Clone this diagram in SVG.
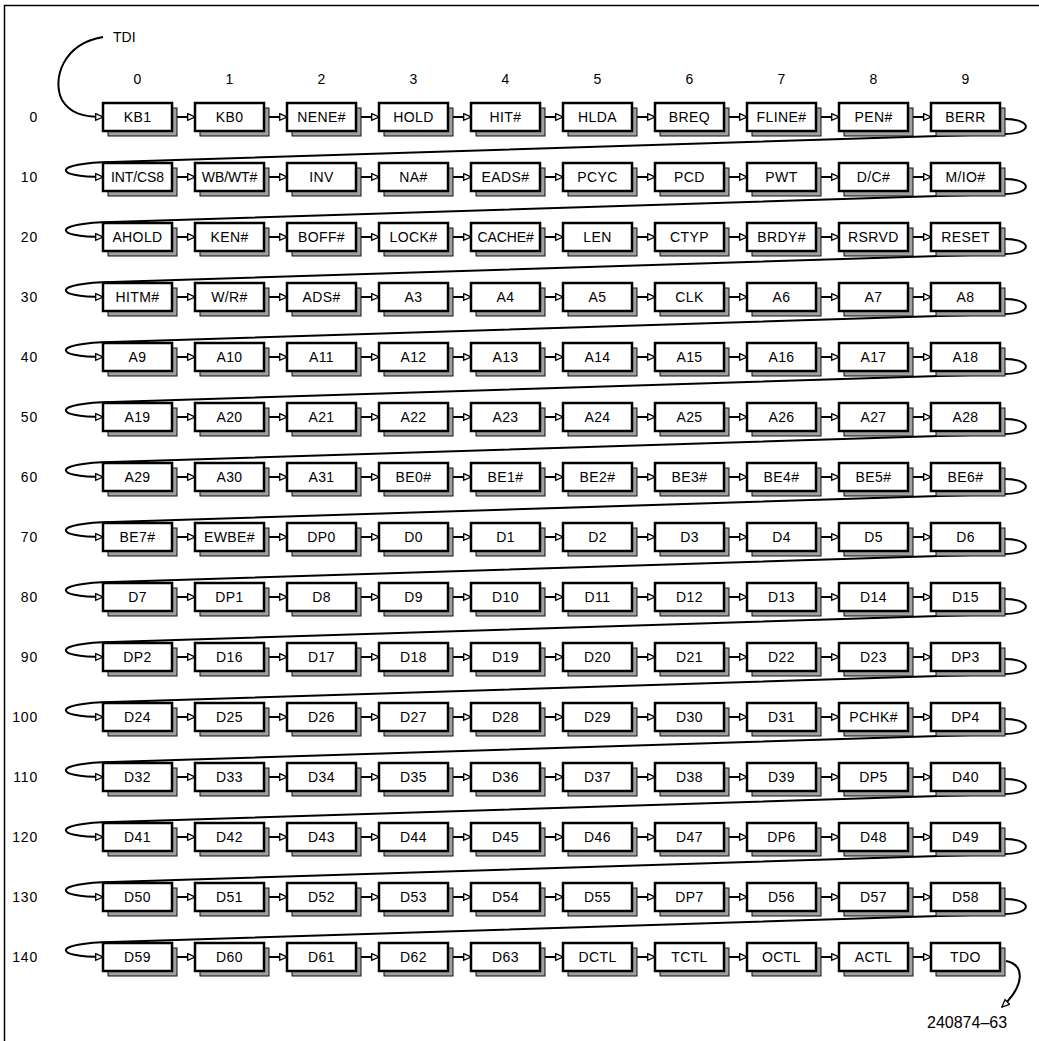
<svg xmlns="http://www.w3.org/2000/svg" width="1039" height="1041" viewBox="0 0 1039 1041">
<style>
.sh{fill:#a0a0a0;stroke:#111;stroke-width:1}
.bx{fill:#fff;stroke:#000;stroke-width:2.5}
.node text{font-family:"Liberation Sans",Arial,sans-serif;font-size:14px;letter-spacing:0.4px;text-anchor:middle;fill:#000}
.node text.w{letter-spacing:-0.1px}
.lbl{font-family:"Liberation Sans",Arial,sans-serif;font-size:14px;fill:#000}
.cl{text-anchor:middle}
.rl{text-anchor:end;letter-spacing:0.8px}
.cn path{fill:none;stroke:#000;stroke-width:2;marker-end:url(#ah)}
</style>
<defs>
<marker id="ah" markerWidth="10" markerHeight="10" refX="8" refY="4" orient="auto" markerUnits="userSpaceOnUse"><path d="M0.7,0.7 L8,4 L0.7,7.3 Z" fill="#fff" stroke="#000" stroke-width="1.3"/></marker>
</defs>
<rect width="1039" height="1041" fill="#fff"/>
<path d="M4.5,1041 V5.5 H1039" fill="none" stroke="#000" stroke-width="1.5"/>
<g id="labels">
<text class="lbl" x="113" y="42">TDI</text>
<text class="lbl cl" x="137.5" y="84">0</text><text class="lbl cl" x="229.5" y="84">1</text><text class="lbl cl" x="321.5" y="84">2</text><text class="lbl cl" x="413.5" y="84">3</text><text class="lbl cl" x="505.5" y="84">4</text><text class="lbl cl" x="597.5" y="84">5</text><text class="lbl cl" x="689.5" y="84">6</text><text class="lbl cl" x="781.5" y="84">7</text><text class="lbl cl" x="873.5" y="84">8</text><text class="lbl cl" x="965.5" y="84">9</text>
<text class="lbl rl" x="38" y="122">0</text><text class="lbl rl" x="38" y="182">10</text><text class="lbl rl" x="38" y="242">20</text><text class="lbl rl" x="38" y="302">30</text><text class="lbl rl" x="38" y="362">40</text><text class="lbl rl" x="38" y="422">50</text><text class="lbl rl" x="38" y="482">60</text><text class="lbl rl" x="38" y="542">70</text><text class="lbl rl" x="38" y="602">80</text><text class="lbl rl" x="38" y="662">90</text><text class="lbl rl" x="38" y="722">100</text><text class="lbl rl" x="38" y="782">110</text><text class="lbl rl" x="38" y="842">120</text><text class="lbl rl" x="38" y="902">130</text><text class="lbl rl" x="38" y="962">140</text>
<text class="lbl" x="927" y="1028" style="font-size:16px">240874–63</text>
</g>
<g id="connectors" class="cn">
<path d="M103,37 C62,44 52,80 62,100 C70,113 82,117 103,117"/>
<path d="M1006,961 C1025,965 1025,985 1002,1007"/>
<path d="M1005,119 C1032,119 1034,134 1004,134 L112,162 C52,163 52,177 103,177"/>
<path d="M1005,179 C1032,179 1034,194 1004,194 L112,222 C52,223 52,237 103,237"/>
<path d="M1005,239 C1032,239 1034,254 1004,254 L112,282 C52,283 52,297 103,297"/>
<path d="M1005,299 C1032,299 1034,314 1004,314 L112,342 C52,343 52,357 103,357"/>
<path d="M1005,359 C1032,359 1034,374 1004,374 L112,402 C52,403 52,417 103,417"/>
<path d="M1005,419 C1032,419 1034,434 1004,434 L112,462 C52,463 52,477 103,477"/>
<path d="M1005,479 C1032,479 1034,494 1004,494 L112,522 C52,523 52,537 103,537"/>
<path d="M1005,539 C1032,539 1034,554 1004,554 L112,582 C52,583 52,597 103,597"/>
<path d="M1005,599 C1032,599 1034,614 1004,614 L112,642 C52,643 52,657 103,657"/>
<path d="M1005,659 C1032,659 1034,674 1004,674 L112,702 C52,703 52,717 103,717"/>
<path d="M1005,719 C1032,719 1034,734 1004,734 L112,762 C52,763 52,777 103,777"/>
<path d="M1005,779 C1032,779 1034,794 1004,794 L112,822 C52,823 52,837 103,837"/>
<path d="M1005,839 C1032,839 1034,854 1004,854 L112,882 C52,883 52,897 103,897"/>
<path d="M1005,899 C1032,899 1034,914 1004,914 L112,942 C52,943 52,957 103,957"/>
<g id="row-links">
<path d="M172,117H195"/><path d="M264,117H287"/><path d="M356,117H379"/><path d="M448,117H471"/><path d="M540,117H563"/><path d="M632,117H655"/><path d="M724,117H747"/><path d="M816,117H839"/><path d="M908,117H931"/>
<path d="M172,177H195"/><path d="M264,177H287"/><path d="M356,177H379"/><path d="M448,177H471"/><path d="M540,177H563"/><path d="M632,177H655"/><path d="M724,177H747"/><path d="M816,177H839"/><path d="M908,177H931"/>
<path d="M172,237H195"/><path d="M264,237H287"/><path d="M356,237H379"/><path d="M448,237H471"/><path d="M540,237H563"/><path d="M632,237H655"/><path d="M724,237H747"/><path d="M816,237H839"/><path d="M908,237H931"/>
<path d="M172,297H195"/><path d="M264,297H287"/><path d="M356,297H379"/><path d="M448,297H471"/><path d="M540,297H563"/><path d="M632,297H655"/><path d="M724,297H747"/><path d="M816,297H839"/><path d="M908,297H931"/>
<path d="M172,357H195"/><path d="M264,357H287"/><path d="M356,357H379"/><path d="M448,357H471"/><path d="M540,357H563"/><path d="M632,357H655"/><path d="M724,357H747"/><path d="M816,357H839"/><path d="M908,357H931"/>
<path d="M172,417H195"/><path d="M264,417H287"/><path d="M356,417H379"/><path d="M448,417H471"/><path d="M540,417H563"/><path d="M632,417H655"/><path d="M724,417H747"/><path d="M816,417H839"/><path d="M908,417H931"/>
<path d="M172,477H195"/><path d="M264,477H287"/><path d="M356,477H379"/><path d="M448,477H471"/><path d="M540,477H563"/><path d="M632,477H655"/><path d="M724,477H747"/><path d="M816,477H839"/><path d="M908,477H931"/>
<path d="M172,537H195"/><path d="M264,537H287"/><path d="M356,537H379"/><path d="M448,537H471"/><path d="M540,537H563"/><path d="M632,537H655"/><path d="M724,537H747"/><path d="M816,537H839"/><path d="M908,537H931"/>
<path d="M172,597H195"/><path d="M264,597H287"/><path d="M356,597H379"/><path d="M448,597H471"/><path d="M540,597H563"/><path d="M632,597H655"/><path d="M724,597H747"/><path d="M816,597H839"/><path d="M908,597H931"/>
<path d="M172,657H195"/><path d="M264,657H287"/><path d="M356,657H379"/><path d="M448,657H471"/><path d="M540,657H563"/><path d="M632,657H655"/><path d="M724,657H747"/><path d="M816,657H839"/><path d="M908,657H931"/>
<path d="M172,717H195"/><path d="M264,717H287"/><path d="M356,717H379"/><path d="M448,717H471"/><path d="M540,717H563"/><path d="M632,717H655"/><path d="M724,717H747"/><path d="M816,717H839"/><path d="M908,717H931"/>
<path d="M172,777H195"/><path d="M264,777H287"/><path d="M356,777H379"/><path d="M448,777H471"/><path d="M540,777H563"/><path d="M632,777H655"/><path d="M724,777H747"/><path d="M816,777H839"/><path d="M908,777H931"/>
<path d="M172,837H195"/><path d="M264,837H287"/><path d="M356,837H379"/><path d="M448,837H471"/><path d="M540,837H563"/><path d="M632,837H655"/><path d="M724,837H747"/><path d="M816,837H839"/><path d="M908,837H931"/>
<path d="M172,897H195"/><path d="M264,897H287"/><path d="M356,897H379"/><path d="M448,897H471"/><path d="M540,897H563"/><path d="M632,897H655"/><path d="M724,897H747"/><path d="M816,897H839"/><path d="M908,897H931"/>
<path d="M172,957H195"/><path d="M264,957H287"/><path d="M356,957H379"/><path d="M448,957H471"/><path d="M540,957H563"/><path d="M632,957H655"/><path d="M724,957H747"/><path d="M816,957H839"/><path d="M908,957H931"/>
</g>
</g>
<defs>
<g id="nb"><rect class="sh" x="5" y="5" width="69" height="28"/><rect class="bx" width="69" height="28"/></g>
</defs>
<g id="nodes">
<g id="n000" class="node" transform="translate(103,103)"><use href="#nb"/><text x="34.5" y="19">KB1</text></g>
<g id="n001" class="node" transform="translate(195,103)"><use href="#nb"/><text x="34.5" y="19">KB0</text></g>
<g id="n002" class="node" transform="translate(287,103)"><use href="#nb"/><text x="34.5" y="19">NENE#</text></g>
<g id="n003" class="node" transform="translate(379,103)"><use href="#nb"/><text x="34.5" y="19">HOLD</text></g>
<g id="n004" class="node" transform="translate(471,103)"><use href="#nb"/><text x="34.5" y="19">HIT#</text></g>
<g id="n005" class="node" transform="translate(563,103)"><use href="#nb"/><text x="34.5" y="19">HLDA</text></g>
<g id="n006" class="node" transform="translate(655,103)"><use href="#nb"/><text x="34.5" y="19">BREQ</text></g>
<g id="n007" class="node" transform="translate(747,103)"><use href="#nb"/><text x="34.5" y="19">FLINE#</text></g>
<g id="n008" class="node" transform="translate(839,103)"><use href="#nb"/><text x="34.5" y="19">PEN#</text></g>
<g id="n009" class="node" transform="translate(931,103)"><use href="#nb"/><text x="34.5" y="19">BERR</text></g>
<g id="n010" class="node" transform="translate(103,163)"><use href="#nb"/><text class="w" x="34.5" y="19">INT/CS8</text></g>
<g id="n011" class="node" transform="translate(195,163)"><use href="#nb"/><text class="w" x="34.5" y="19">WB/WT#</text></g>
<g id="n012" class="node" transform="translate(287,163)"><use href="#nb"/><text x="34.5" y="19">INV</text></g>
<g id="n013" class="node" transform="translate(379,163)"><use href="#nb"/><text x="34.5" y="19">NA#</text></g>
<g id="n014" class="node" transform="translate(471,163)"><use href="#nb"/><text x="34.5" y="19">EADS#</text></g>
<g id="n015" class="node" transform="translate(563,163)"><use href="#nb"/><text x="34.5" y="19">PCYC</text></g>
<g id="n016" class="node" transform="translate(655,163)"><use href="#nb"/><text x="34.5" y="19">PCD</text></g>
<g id="n017" class="node" transform="translate(747,163)"><use href="#nb"/><text x="34.5" y="19">PWT</text></g>
<g id="n018" class="node" transform="translate(839,163)"><use href="#nb"/><text x="34.5" y="19">D/C#</text></g>
<g id="n019" class="node" transform="translate(931,163)"><use href="#nb"/><text x="34.5" y="19">M/IO#</text></g>
<g id="n020" class="node" transform="translate(103,223)"><use href="#nb"/><text x="34.5" y="19">AHOLD</text></g>
<g id="n021" class="node" transform="translate(195,223)"><use href="#nb"/><text x="34.5" y="19">KEN#</text></g>
<g id="n022" class="node" transform="translate(287,223)"><use href="#nb"/><text x="34.5" y="19">BOFF#</text></g>
<g id="n023" class="node" transform="translate(379,223)"><use href="#nb"/><text x="34.5" y="19">LOCK#</text></g>
<g id="n024" class="node" transform="translate(471,223)"><use href="#nb"/><text class="w" x="34.5" y="19">CACHE#</text></g>
<g id="n025" class="node" transform="translate(563,223)"><use href="#nb"/><text x="34.5" y="19">LEN</text></g>
<g id="n026" class="node" transform="translate(655,223)"><use href="#nb"/><text x="34.5" y="19">CTYP</text></g>
<g id="n027" class="node" transform="translate(747,223)"><use href="#nb"/><text x="34.5" y="19">BRDY#</text></g>
<g id="n028" class="node" transform="translate(839,223)"><use href="#nb"/><text x="34.5" y="19">RSRVD</text></g>
<g id="n029" class="node" transform="translate(931,223)"><use href="#nb"/><text x="34.5" y="19">RESET</text></g>
<g id="n030" class="node" transform="translate(103,283)"><use href="#nb"/><text x="34.5" y="19">HITM#</text></g>
<g id="n031" class="node" transform="translate(195,283)"><use href="#nb"/><text x="34.5" y="19">W/R#</text></g>
<g id="n032" class="node" transform="translate(287,283)"><use href="#nb"/><text x="34.5" y="19">ADS#</text></g>
<g id="n033" class="node" transform="translate(379,283)"><use href="#nb"/><text x="34.5" y="19">A3</text></g>
<g id="n034" class="node" transform="translate(471,283)"><use href="#nb"/><text x="34.5" y="19">A4</text></g>
<g id="n035" class="node" transform="translate(563,283)"><use href="#nb"/><text x="34.5" y="19">A5</text></g>
<g id="n036" class="node" transform="translate(655,283)"><use href="#nb"/><text x="34.5" y="19">CLK</text></g>
<g id="n037" class="node" transform="translate(747,283)"><use href="#nb"/><text x="34.5" y="19">A6</text></g>
<g id="n038" class="node" transform="translate(839,283)"><use href="#nb"/><text x="34.5" y="19">A7</text></g>
<g id="n039" class="node" transform="translate(931,283)"><use href="#nb"/><text x="34.5" y="19">A8</text></g>
<g id="n040" class="node" transform="translate(103,343)"><use href="#nb"/><text x="34.5" y="19">A9</text></g>
<g id="n041" class="node" transform="translate(195,343)"><use href="#nb"/><text x="34.5" y="19">A10</text></g>
<g id="n042" class="node" transform="translate(287,343)"><use href="#nb"/><text x="34.5" y="19">A11</text></g>
<g id="n043" class="node" transform="translate(379,343)"><use href="#nb"/><text x="34.5" y="19">A12</text></g>
<g id="n044" class="node" transform="translate(471,343)"><use href="#nb"/><text x="34.5" y="19">A13</text></g>
<g id="n045" class="node" transform="translate(563,343)"><use href="#nb"/><text x="34.5" y="19">A14</text></g>
<g id="n046" class="node" transform="translate(655,343)"><use href="#nb"/><text x="34.5" y="19">A15</text></g>
<g id="n047" class="node" transform="translate(747,343)"><use href="#nb"/><text x="34.5" y="19">A16</text></g>
<g id="n048" class="node" transform="translate(839,343)"><use href="#nb"/><text x="34.5" y="19">A17</text></g>
<g id="n049" class="node" transform="translate(931,343)"><use href="#nb"/><text x="34.5" y="19">A18</text></g>
<g id="n050" class="node" transform="translate(103,403)"><use href="#nb"/><text x="34.5" y="19">A19</text></g>
<g id="n051" class="node" transform="translate(195,403)"><use href="#nb"/><text x="34.5" y="19">A20</text></g>
<g id="n052" class="node" transform="translate(287,403)"><use href="#nb"/><text x="34.5" y="19">A21</text></g>
<g id="n053" class="node" transform="translate(379,403)"><use href="#nb"/><text x="34.5" y="19">A22</text></g>
<g id="n054" class="node" transform="translate(471,403)"><use href="#nb"/><text x="34.5" y="19">A23</text></g>
<g id="n055" class="node" transform="translate(563,403)"><use href="#nb"/><text x="34.5" y="19">A24</text></g>
<g id="n056" class="node" transform="translate(655,403)"><use href="#nb"/><text x="34.5" y="19">A25</text></g>
<g id="n057" class="node" transform="translate(747,403)"><use href="#nb"/><text x="34.5" y="19">A26</text></g>
<g id="n058" class="node" transform="translate(839,403)"><use href="#nb"/><text x="34.5" y="19">A27</text></g>
<g id="n059" class="node" transform="translate(931,403)"><use href="#nb"/><text x="34.5" y="19">A28</text></g>
<g id="n060" class="node" transform="translate(103,463)"><use href="#nb"/><text x="34.5" y="19">A29</text></g>
<g id="n061" class="node" transform="translate(195,463)"><use href="#nb"/><text x="34.5" y="19">A30</text></g>
<g id="n062" class="node" transform="translate(287,463)"><use href="#nb"/><text x="34.5" y="19">A31</text></g>
<g id="n063" class="node" transform="translate(379,463)"><use href="#nb"/><text x="34.5" y="19">BE0#</text></g>
<g id="n064" class="node" transform="translate(471,463)"><use href="#nb"/><text x="34.5" y="19">BE1#</text></g>
<g id="n065" class="node" transform="translate(563,463)"><use href="#nb"/><text x="34.5" y="19">BE2#</text></g>
<g id="n066" class="node" transform="translate(655,463)"><use href="#nb"/><text x="34.5" y="19">BE3#</text></g>
<g id="n067" class="node" transform="translate(747,463)"><use href="#nb"/><text x="34.5" y="19">BE4#</text></g>
<g id="n068" class="node" transform="translate(839,463)"><use href="#nb"/><text x="34.5" y="19">BE5#</text></g>
<g id="n069" class="node" transform="translate(931,463)"><use href="#nb"/><text x="34.5" y="19">BE6#</text></g>
<g id="n070" class="node" transform="translate(103,523)"><use href="#nb"/><text x="34.5" y="19">BE7#</text></g>
<g id="n071" class="node" transform="translate(195,523)"><use href="#nb"/><text x="34.5" y="19">EWBE#</text></g>
<g id="n072" class="node" transform="translate(287,523)"><use href="#nb"/><text x="34.5" y="19">DP0</text></g>
<g id="n073" class="node" transform="translate(379,523)"><use href="#nb"/><text x="34.5" y="19">D0</text></g>
<g id="n074" class="node" transform="translate(471,523)"><use href="#nb"/><text x="34.5" y="19">D1</text></g>
<g id="n075" class="node" transform="translate(563,523)"><use href="#nb"/><text x="34.5" y="19">D2</text></g>
<g id="n076" class="node" transform="translate(655,523)"><use href="#nb"/><text x="34.5" y="19">D3</text></g>
<g id="n077" class="node" transform="translate(747,523)"><use href="#nb"/><text x="34.5" y="19">D4</text></g>
<g id="n078" class="node" transform="translate(839,523)"><use href="#nb"/><text x="34.5" y="19">D5</text></g>
<g id="n079" class="node" transform="translate(931,523)"><use href="#nb"/><text x="34.5" y="19">D6</text></g>
<g id="n080" class="node" transform="translate(103,583)"><use href="#nb"/><text x="34.5" y="19">D7</text></g>
<g id="n081" class="node" transform="translate(195,583)"><use href="#nb"/><text x="34.5" y="19">DP1</text></g>
<g id="n082" class="node" transform="translate(287,583)"><use href="#nb"/><text x="34.5" y="19">D8</text></g>
<g id="n083" class="node" transform="translate(379,583)"><use href="#nb"/><text x="34.5" y="19">D9</text></g>
<g id="n084" class="node" transform="translate(471,583)"><use href="#nb"/><text x="34.5" y="19">D10</text></g>
<g id="n085" class="node" transform="translate(563,583)"><use href="#nb"/><text x="34.5" y="19">D11</text></g>
<g id="n086" class="node" transform="translate(655,583)"><use href="#nb"/><text x="34.5" y="19">D12</text></g>
<g id="n087" class="node" transform="translate(747,583)"><use href="#nb"/><text x="34.5" y="19">D13</text></g>
<g id="n088" class="node" transform="translate(839,583)"><use href="#nb"/><text x="34.5" y="19">D14</text></g>
<g id="n089" class="node" transform="translate(931,583)"><use href="#nb"/><text x="34.5" y="19">D15</text></g>
<g id="n090" class="node" transform="translate(103,643)"><use href="#nb"/><text x="34.5" y="19">DP2</text></g>
<g id="n091" class="node" transform="translate(195,643)"><use href="#nb"/><text x="34.5" y="19">D16</text></g>
<g id="n092" class="node" transform="translate(287,643)"><use href="#nb"/><text x="34.5" y="19">D17</text></g>
<g id="n093" class="node" transform="translate(379,643)"><use href="#nb"/><text x="34.5" y="19">D18</text></g>
<g id="n094" class="node" transform="translate(471,643)"><use href="#nb"/><text x="34.5" y="19">D19</text></g>
<g id="n095" class="node" transform="translate(563,643)"><use href="#nb"/><text x="34.5" y="19">D20</text></g>
<g id="n096" class="node" transform="translate(655,643)"><use href="#nb"/><text x="34.5" y="19">D21</text></g>
<g id="n097" class="node" transform="translate(747,643)"><use href="#nb"/><text x="34.5" y="19">D22</text></g>
<g id="n098" class="node" transform="translate(839,643)"><use href="#nb"/><text x="34.5" y="19">D23</text></g>
<g id="n099" class="node" transform="translate(931,643)"><use href="#nb"/><text x="34.5" y="19">DP3</text></g>
<g id="n100" class="node" transform="translate(103,703)"><use href="#nb"/><text x="34.5" y="19">D24</text></g>
<g id="n101" class="node" transform="translate(195,703)"><use href="#nb"/><text x="34.5" y="19">D25</text></g>
<g id="n102" class="node" transform="translate(287,703)"><use href="#nb"/><text x="34.5" y="19">D26</text></g>
<g id="n103" class="node" transform="translate(379,703)"><use href="#nb"/><text x="34.5" y="19">D27</text></g>
<g id="n104" class="node" transform="translate(471,703)"><use href="#nb"/><text x="34.5" y="19">D28</text></g>
<g id="n105" class="node" transform="translate(563,703)"><use href="#nb"/><text x="34.5" y="19">D29</text></g>
<g id="n106" class="node" transform="translate(655,703)"><use href="#nb"/><text x="34.5" y="19">D30</text></g>
<g id="n107" class="node" transform="translate(747,703)"><use href="#nb"/><text x="34.5" y="19">D31</text></g>
<g id="n108" class="node" transform="translate(839,703)"><use href="#nb"/><text x="34.5" y="19">PCHK#</text></g>
<g id="n109" class="node" transform="translate(931,703)"><use href="#nb"/><text x="34.5" y="19">DP4</text></g>
<g id="n110" class="node" transform="translate(103,763)"><use href="#nb"/><text x="34.5" y="19">D32</text></g>
<g id="n111" class="node" transform="translate(195,763)"><use href="#nb"/><text x="34.5" y="19">D33</text></g>
<g id="n112" class="node" transform="translate(287,763)"><use href="#nb"/><text x="34.5" y="19">D34</text></g>
<g id="n113" class="node" transform="translate(379,763)"><use href="#nb"/><text x="34.5" y="19">D35</text></g>
<g id="n114" class="node" transform="translate(471,763)"><use href="#nb"/><text x="34.5" y="19">D36</text></g>
<g id="n115" class="node" transform="translate(563,763)"><use href="#nb"/><text x="34.5" y="19">D37</text></g>
<g id="n116" class="node" transform="translate(655,763)"><use href="#nb"/><text x="34.5" y="19">D38</text></g>
<g id="n117" class="node" transform="translate(747,763)"><use href="#nb"/><text x="34.5" y="19">D39</text></g>
<g id="n118" class="node" transform="translate(839,763)"><use href="#nb"/><text x="34.5" y="19">DP5</text></g>
<g id="n119" class="node" transform="translate(931,763)"><use href="#nb"/><text x="34.5" y="19">D40</text></g>
<g id="n120" class="node" transform="translate(103,823)"><use href="#nb"/><text x="34.5" y="19">D41</text></g>
<g id="n121" class="node" transform="translate(195,823)"><use href="#nb"/><text x="34.5" y="19">D42</text></g>
<g id="n122" class="node" transform="translate(287,823)"><use href="#nb"/><text x="34.5" y="19">D43</text></g>
<g id="n123" class="node" transform="translate(379,823)"><use href="#nb"/><text x="34.5" y="19">D44</text></g>
<g id="n124" class="node" transform="translate(471,823)"><use href="#nb"/><text x="34.5" y="19">D45</text></g>
<g id="n125" class="node" transform="translate(563,823)"><use href="#nb"/><text x="34.5" y="19">D46</text></g>
<g id="n126" class="node" transform="translate(655,823)"><use href="#nb"/><text x="34.5" y="19">D47</text></g>
<g id="n127" class="node" transform="translate(747,823)"><use href="#nb"/><text x="34.5" y="19">DP6</text></g>
<g id="n128" class="node" transform="translate(839,823)"><use href="#nb"/><text x="34.5" y="19">D48</text></g>
<g id="n129" class="node" transform="translate(931,823)"><use href="#nb"/><text x="34.5" y="19">D49</text></g>
<g id="n130" class="node" transform="translate(103,883)"><use href="#nb"/><text x="34.5" y="19">D50</text></g>
<g id="n131" class="node" transform="translate(195,883)"><use href="#nb"/><text x="34.5" y="19">D51</text></g>
<g id="n132" class="node" transform="translate(287,883)"><use href="#nb"/><text x="34.5" y="19">D52</text></g>
<g id="n133" class="node" transform="translate(379,883)"><use href="#nb"/><text x="34.5" y="19">D53</text></g>
<g id="n134" class="node" transform="translate(471,883)"><use href="#nb"/><text x="34.5" y="19">D54</text></g>
<g id="n135" class="node" transform="translate(563,883)"><use href="#nb"/><text x="34.5" y="19">D55</text></g>
<g id="n136" class="node" transform="translate(655,883)"><use href="#nb"/><text x="34.5" y="19">DP7</text></g>
<g id="n137" class="node" transform="translate(747,883)"><use href="#nb"/><text x="34.5" y="19">D56</text></g>
<g id="n138" class="node" transform="translate(839,883)"><use href="#nb"/><text x="34.5" y="19">D57</text></g>
<g id="n139" class="node" transform="translate(931,883)"><use href="#nb"/><text x="34.5" y="19">D58</text></g>
<g id="n140" class="node" transform="translate(103,943)"><use href="#nb"/><text x="34.5" y="19">D59</text></g>
<g id="n141" class="node" transform="translate(195,943)"><use href="#nb"/><text x="34.5" y="19">D60</text></g>
<g id="n142" class="node" transform="translate(287,943)"><use href="#nb"/><text x="34.5" y="19">D61</text></g>
<g id="n143" class="node" transform="translate(379,943)"><use href="#nb"/><text x="34.5" y="19">D62</text></g>
<g id="n144" class="node" transform="translate(471,943)"><use href="#nb"/><text x="34.5" y="19">D63</text></g>
<g id="n145" class="node" transform="translate(563,943)"><use href="#nb"/><text x="34.5" y="19">DCTL</text></g>
<g id="n146" class="node" transform="translate(655,943)"><use href="#nb"/><text x="34.5" y="19">TCTL</text></g>
<g id="n147" class="node" transform="translate(747,943)"><use href="#nb"/><text x="34.5" y="19">OCTL</text></g>
<g id="n148" class="node" transform="translate(839,943)"><use href="#nb"/><text x="34.5" y="19">ACTL</text></g>
<g id="n149" class="node" transform="translate(931,943)"><use href="#nb"/><text x="34.5" y="19">TDO</text></g>
</g>
</svg>
